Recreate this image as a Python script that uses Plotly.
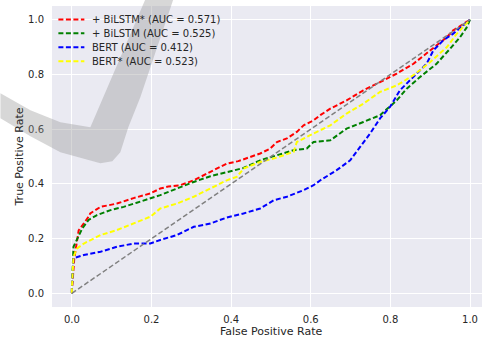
import plotly.graph_objects as go

# ---- data ----
bilstm_star_fpr = [0.0, 0.0, 0.006, 0.017, 0.042, 0.046, 0.072, 0.113, 0.155, 0.197, 0.222, 0.242, 0.272, 0.306, 0.348,
                   0.389, 0.418, 0.448, 0.473, 0.498, 0.515, 0.54, 0.565, 0.582, 0.607, 0.624, 0.649, 0.69, 0.732,
                   0.774, 0.816, 0.858, 0.9, 0.942, 0.957, 1.0]
bilstm_star_tpr = [0.0, 0.01, 0.128, 0.23, 0.28, 0.292, 0.316, 0.328, 0.348, 0.365, 0.383, 0.39, 0.395, 0.413, 0.444,
                   0.474, 0.483, 0.499, 0.511, 0.529, 0.553, 0.566, 0.59, 0.614, 0.632, 0.651, 0.675, 0.705, 0.742,
                   0.772, 0.803, 0.839, 0.888, 0.936, 0.96, 1.0]

bilstm_fpr = [0.0, 0.0, 0.004, 0.013, 0.026, 0.042, 0.063, 0.097, 0.13, 0.163, 0.197, 0.222, 0.264, 0.306, 0.348,
              0.389, 0.431, 0.473, 0.515, 0.557, 0.59, 0.607, 0.649, 0.69, 0.732, 0.774, 0.816, 0.841, 0.875, 0.916,
              0.95, 0.975, 0.991, 1.0]
bilstm_tpr = [0.0, 0.02, 0.17, 0.2, 0.237, 0.268, 0.286, 0.304, 0.316, 0.331, 0.347, 0.359, 0.383, 0.407, 0.428,
              0.444, 0.458, 0.486, 0.505, 0.523, 0.529, 0.553, 0.559, 0.602, 0.626, 0.651, 0.705, 0.748, 0.791,
              0.839, 0.894, 0.936, 0.97, 1.0]

bert_fpr = [0.0, 0.0, 0.004, 0.03, 0.072, 0.113, 0.155, 0.197, 0.222, 0.264, 0.306, 0.348, 0.389, 0.431, 0.473,
            0.507, 0.54, 0.582, 0.607, 0.624, 0.665, 0.699, 0.724, 0.749, 0.774, 0.799, 0.824, 0.858, 0.891, 0.908,
            0.933, 0.958, 1.0]
bert_tpr = [0.0, 0.02, 0.128, 0.14, 0.152, 0.17, 0.182, 0.182, 0.195, 0.213, 0.243, 0.255, 0.277, 0.292, 0.31,
            0.34, 0.353, 0.377, 0.395, 0.413, 0.45, 0.486, 0.535, 0.584, 0.639, 0.681, 0.742, 0.791, 0.839, 0.888,
            0.925, 0.949, 1.0]

bert_star_fpr = [0.0, 0.0, 0.004, 0.013, 0.03, 0.072, 0.113, 0.155, 0.197, 0.222, 0.264, 0.306, 0.348, 0.389, 0.415,
                 0.431, 0.473, 0.515, 0.557, 0.565, 0.607, 0.649, 0.69, 0.732, 0.774, 0.816, 0.858, 0.9, 0.942,
                 0.967, 1.0]
bert_star_tpr = [0.0, 0.02, 0.134, 0.164, 0.182, 0.213, 0.231, 0.255, 0.28, 0.31, 0.328, 0.353, 0.383, 0.413, 0.426,
                 0.456, 0.48, 0.496, 0.517, 0.553, 0.584, 0.614, 0.657, 0.693, 0.736, 0.76, 0.797, 0.845, 0.9,
                 0.949, 1.0]

series = [
    ("+ BiLSTM* (AUC = 0.571)", bilstm_star_fpr, bilstm_star_tpr, "red"),
    ("+ BiLSTM (AUC = 0.525)", bilstm_fpr, bilstm_tpr, "green"),
    ("BERT (AUC = 0.412)", bert_fpr, bert_tpr, "blue"),
    ("BERT* (AUC = 0.523)", bert_star_fpr, bert_star_tpr, "yellow"),
]
diag = [0.0, 1.0]
ticks = [0.0, 0.2, 0.4, 0.6, 0.8, 1.0]

W, H = 482, 338
L, T, B, R = 51.6, 5.6, 31, 0
pw, ph = W - L - R, H - T - B
DASH = "5px,2.5px"
TXT = "#262626"

def P(px, py):
    return ((px - L) / pw, 1 - (py - T) / ph)

fig = go.Figure()
for name, fx, ty, col in series:
    fig.add_trace(go.Scatter(x=fx, y=ty, mode="lines", name=name, showlegend=False,
                             line=dict(color=col, width=2, dash=DASH)))
fig.add_trace(go.Scatter(x=diag, y=diag, mode="lines", showlegend=False,
                         line=dict(color="gray", width=1.5, dash=DASH)))

# legend (matplotlib-like spacing)
for i, (name, fx, ty, col) in enumerate(series):
    yy = 19 + 14 * i
    x0, y0 = P(58, yy)
    x1, _ = P(84, yy)
    fig.add_shape(type="line", xref="paper", yref="paper", x0=x0, x1=x1, y0=y0, y1=y0,
                  line=dict(color=col, width=2, dash=DASH))
    tx, ty_ = P(90, yy)
    fig.add_annotation(text=name, x=tx, y=ty_, xref="paper", yref="paper", showarrow=False,
                       xanchor="left", yanchor="middle", font=dict(size=10, color=TXT))

# grey watermark stroke
pts = [(0, 93), (30, 110), (60, 122), (90, 127), (145, -1), (173, -1), (140, 97), (128, 127),
       (120, 152), (112, 161), (100, 163), (60, 152), (30, 136), (0, 118)]
path = "M " + " L ".join(f"{P(a, b)[0]:.4f},{P(a, b)[1]:.4f}" for a, b in pts) + " Z"
fig.add_shape(type="path", path=path, xref="paper", yref="paper", layer="above",
              fillcolor="rgba(150,150,150,0.38)", line=dict(width=0))

ax, ay = P(271, 332)
fig.add_annotation(text="False Positive Rate", x=ax, y=ay, xref="paper", yref="paper",
                   showarrow=False, xanchor="center", yanchor="middle", borderpad=0,
                   font=dict(size=11, color=TXT))

fig.update_layout(
    width=W, height=H,
    margin=dict(l=L, r=R, t=T, b=B, pad=0, autoexpand=False),
    paper_bgcolor="white", plot_bgcolor="#EAEAF2",
    font=dict(family="DejaVu Sans", size=10, color=TXT),
    showlegend=False,
    xaxis=dict(range=[-0.05, (W - 71.5) / 398.5], tickvals=ticks, tickformat=".1f", automargin=False,
               showgrid=True, gridcolor="white", gridwidth=1, zeroline=False, showline=False,
               ticks="", ticklabelstandoff=5, tickfont=dict(size=10, color=TXT)),
    yaxis=dict(range=[-0.05, 1.05], tickvals=ticks, tickformat=".1f", automargin=False,
               showgrid=True, gridcolor="white", gridwidth=1, zeroline=False, showline=False,
               ticks="", ticklabelstandoff=7, tickfont=dict(size=10, color=TXT),
               title=dict(text="True Positive Rate", font=dict(size=11, color=TXT), standoff=2)),
)

fig.write_html("out.html", config={"displayModeBar": False},
               post_script="document.body.style.margin='0';")
